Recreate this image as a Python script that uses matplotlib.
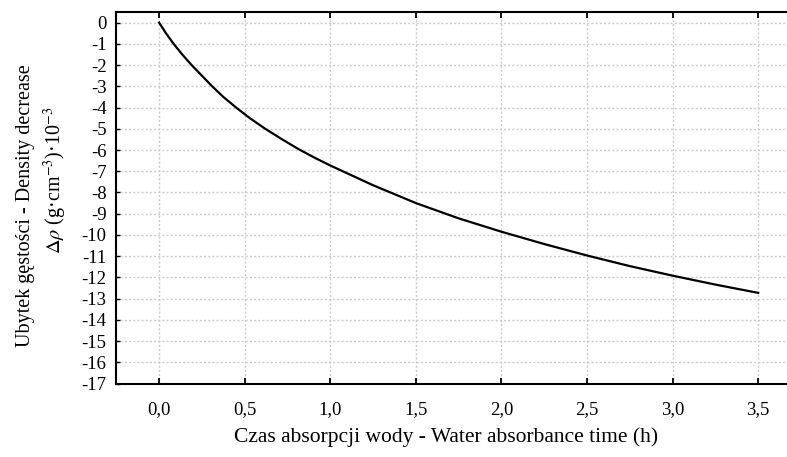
import matplotlib
matplotlib.use('Agg')
import matplotlib.pyplot as plt
from matplotlib import rcParams

rcParams['font.family'] = ['Liberation Serif', 'DejaVu Serif']
rcParams['mathtext.fontset'] = 'stix'

# time (h) and density decrease (g/cm3 * 10^-3)
time_h = [0.0, 0.04, 0.085, 0.135, 0.19, 0.25, 0.31, 0.375, 0.45, 0.53,
          0.62, 0.715, 0.815, 0.91, 1.0, 1.25, 1.5, 1.75, 2.0, 2.25,
          2.5, 2.75, 3.0, 3.25, 3.5]
density_drop = [0.0, -0.5, -1.0, -1.5, -2.0, -2.5, -3.0, -3.5, -4.0, -4.5,
                -5.0, -5.48, -5.96, -6.37, -6.73, -7.66, -8.5, -9.22, -9.85, -10.43,
                -10.97, -11.47, -11.92, -12.34, -12.73]

x_ticks = [0.0, 0.5, 1.0, 1.5, 2.0, 2.5, 3.0, 3.5]
x_tick_labels = ['0,0', '0,5', '1,0', '1,5', '2,0', '2,5', '3,0', '3,5']
y_ticks = list(range(0, -18, -1))

fig = plt.figure(figsize=(7.87, 4.57), dpi=100)
ax = fig.add_axes([0.1478, 0.1608, 0.870, 0.8129])

ax.plot(time_h, density_drop, color='black', lw=1.6, zorder=3)

ax.set_xlim(-0.25, 3.75)
ax.set_ylim(-17, 0.5)
ax.set_xticks(x_ticks)
ax.set_xticklabels(x_tick_labels)
ax.set_yticks(y_ticks)
ax.set_yticklabels([str(v) for v in y_ticks])

ax.grid(True, color='#cccccc', linestyle=(0, (1.5, 1.5)), lw=1.0)
ax.tick_params(axis='x', which='both', direction='in', top=True, length=4,
               width=1.3, pad=13, labelsize=13.5)
ax.tick_params(axis='y', direction='in', length=3, width=1.0, pad=7,
               labelsize=13.5)
for side in ['left', 'top', 'bottom']:
    ax.spines[side].set_linewidth(1.5)
ax.spines['right'].set_visible(False)

fig.text(0.032, 0.551, 'Ubytek gęstości - Density decrease', rotation=90,
         ha='center', va='center', fontsize=14.5)
fig.text(0.071, 0.606, r'$\mathit{\Delta\rho}$ (g·cm$^{-3}$)·10$^{-3}$',
         rotation=90, ha='center', va='center', fontsize=14.5)
fig.text(0.567, 0.044, 'Czas absorpcji wody - Water absorbance time (h)',
         ha='center', va='center', fontsize=15.5)

fig.savefig('out.png', dpi=100)
